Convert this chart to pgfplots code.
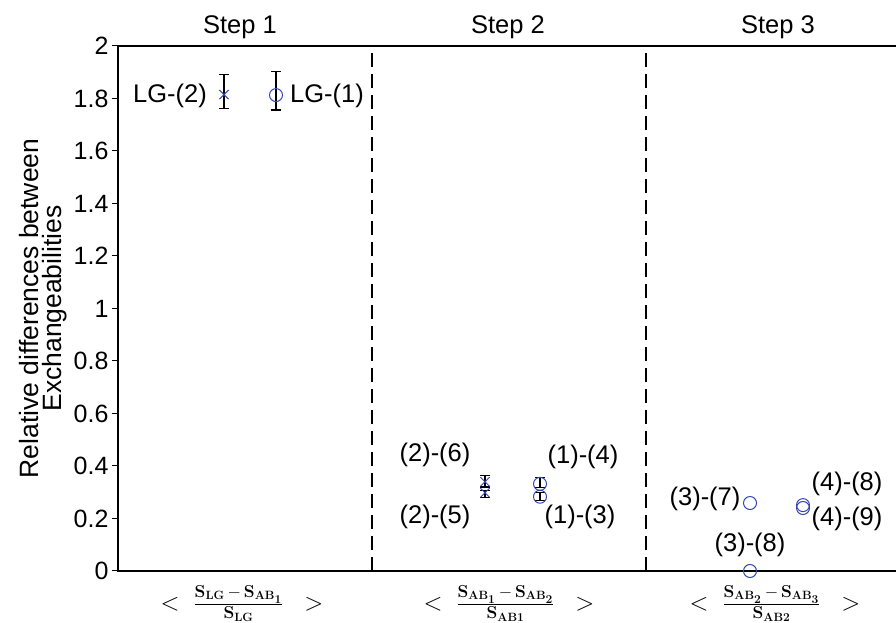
\documentclass[border=0pt]{standalone}
\usepackage[no-math]{fontspec}
\setmainfont{Liberation Sans}
\usepackage{pgfplots}
\pgfplotsset{compat=1.18}
\definecolor{mblue}{RGB}{50,70,175}
\newcommand{\lbl}{\fontsize{25.5}{25.5}\selectfont}
\begin{document}
\begin{tikzpicture}
\begin{axis}[
  at={(0,0)}, anchor=south west,
  scale only axis, width=792pt, height=525pt,
  xmin=0, xmax=792, ymin=0, ymax=2,
  ytick={0,0.2,0.4,0.6,0.8,1,1.2,1.4,1.6,1.8,2},
  /pgf/number format/assume math mode=true,
  tick label style={font=\fontsize{25}{25}\selectfont},
  xtick={124,391,657},
  xticklabels={
    {$<\ \frac{\mathbf{S_{LG}}\,-\,\mathbf{S_{AB_1}}}{\mathbf{S_{LG}}}\ \ >$},
    {$<\ \frac{\mathbf{S_{AB_1}}\,-\,\mathbf{S_{AB_2}}}{\mathbf{S_{AB1}}}\ \ >$},
    {$<\ \frac{\mathbf{S_{AB_2}}\,-\,\mathbf{S_{AB_3}}}{\mathbf{S_{AB2}}}\ \ >$}},
  xticklabel style={font=\fontsize{25}{28}\selectfont, yshift=-5pt},
  x tick style={draw=none},
  ytick pos=left, tick align=outside, major tick length=6pt,
  y tick style={line width=1pt, black},
  axis line style={line width=1.5pt},
  ylabel={Relative differences between\\Exchangeabilities},
  ylabel style={align=center, font=\fontsize{26.5}{23.5}\selectfont, at={(axis description cs:-0.0947,0.5)}, anchor=center},
  clip=false,
]
\addplot[only marks, mark=x, mark size=6.5pt, mblue, mark options={line width=1pt},
  error bars/.cd, y dir=both, y explicit,
  error bar style={black, line width=1.1pt},
  error mark options={black, rotate=90, mark size=5pt, line width=1.1pt}]
  table[x=x, y=y, y error plus=ep, y error minus=em] {
x y ep em
106 1.815 0.075 0.052
367 0.340 0.025 0.020
367 0.298 0.010 0.018
};
\addplot[only marks, mark=o, mark size=6.5pt, mblue, mark options={line width=1pt},
  error bars/.cd, y dir=both, y explicit,
  error bar style={black, line width=1.1pt},
  error mark options={black, rotate=90, mark size=5pt, line width=1.1pt}]
  table[x=x, y=y, y error plus=ep, y error minus=em] {
x y ep em
158 1.813 0.089 0.057
422 0.332 0.024 0.015
422 0.283 0.015 0.015
};
\addplot[only marks, mark=o, mark size=6.5pt, mblue, mark options={line width=1pt}]
  table[x=x, y=y] {
x y
632 0.259
632 0.000
685 0.251
685 0.240
};
\addplot[black, line width=2pt, dash pattern=on 14pt off 7pt] coordinates {(254,0) (254,2)};
\addplot[black, line width=2pt, dash pattern=on 14pt off 7pt] coordinates {(528,0) (528,2)};
\node[font=\lbl, anchor=base, yshift=12pt] at (axis cs:122,2) {Step 1};
\node[font=\lbl, anchor=base, yshift=12pt] at (axis cs:390,2) {Step 2};
\node[font=\lbl, anchor=base, yshift=12pt] at (axis cs:660,2) {Step 3};
\node[font=\lbl] at (axis cs:52,1.81) {LG-(2)};
\node[font=\lbl] at (axis cs:209,1.81) {LG-(1)};
\node[font=\lbl] at (axis cs:317,0.442) {(2)-(6)};
\node[font=\lbl] at (axis cs:317,0.206) {(2)-(5)};
\node[font=\lbl] at (axis cs:465,0.434) {(1)-(4)};
\node[font=\lbl] at (axis cs:462,0.206) {(1)-(3)};
\node[font=\lbl] at (axis cs:587,0.274) {(3)-(7)};
\node[font=\lbl] at (axis cs:632,0.099) {(3)-(8)};
\node[font=\lbl] at (axis cs:729,0.331) {(4)-(8)};
\node[font=\lbl] at (axis cs:729,0.198) {(4)-(9)};
\end{axis}
\pgfresetboundingbox
\useasboundingbox (-118pt,-52pt) rectangle (778pt,571pt);
\end{tikzpicture}
\end{document}
